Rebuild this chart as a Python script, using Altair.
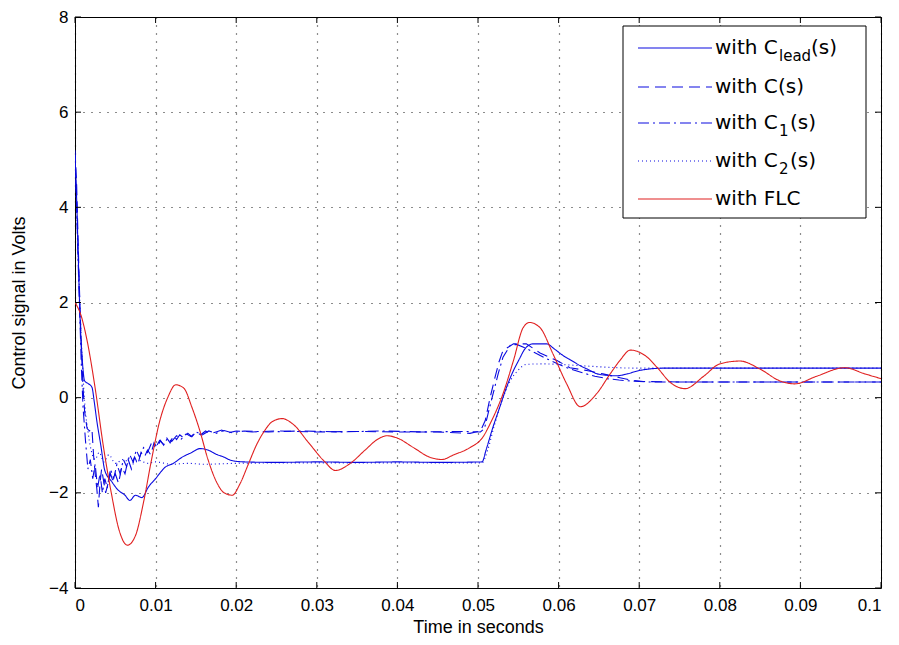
import altair as alt
import pandas as pd

# ---------------- data ----------------
t_lead = [0, 0.0002, 0.0004, 0.0006, 0.0009, 0.0012, 0.0016, 0.0021, 0.0024, 0.0027, 0.0032, 0.0037,
          0.0045, 0.0054, 0.0062, 0.0068, 0.0075, 0.0083, 0.0091, 0.0100, 0.0112, 0.0122, 0.0133,
          0.0145, 0.0155, 0.0165, 0.0174, 0.0185, 0.0194, 0.021, 0.025, 0.03, 0.035, 0.04, 0.045,
          0.0505, 0.051, 0.0518, 0.0527, 0.0535, 0.0544, 0.0551, 0.0558, 0.0568, 0.0585, 0.0595,
          0.0606, 0.0617, 0.0627, 0.0638, 0.0648, 0.0660, 0.0672, 0.0685, 0.0700, 0.073, 0.08, 0.09, 0.1]
v_lead = [5.1, 4.2, 3.0, 1.8, 0.8, 0.35, 0.3, 0.22, -0.1, -0.48, -1.0, -1.53,
          -1.75, -1.95, -2.05, -2.16, -2.05, -2.1, -1.88, -1.7, -1.46, -1.38, -1.25,
          -1.15, -1.07, -1.1, -1.18, -1.25, -1.32, -1.35, -1.36, -1.35, -1.36, -1.35, -1.36,
          -1.35, -1.1, -0.65, -0.2, 0.2, 0.57, 0.8, 1.02, 1.13, 1.13, 1.02,
          0.88, 0.77, 0.67, 0.58, 0.5, 0.47, 0.46, 0.5, 0.57, 0.62, 0.62, 0.62, 0.62]

t_c = [0, 0.0002, 0.0004, 0.0006, 0.0008, 0.0010, 0.0012, 0.0015, 0.0018, 0.0021, 0.0023, 0.0025,
       0.0027, 0.0029, 0.0031, 0.0033, 0.0035, 0.0038, 0.0041, 0.0044, 0.0047, 0.005, 0.0054,
       0.0058, 0.0062, 0.0066, 0.007, 0.0074, 0.0078, 0.0082, 0.0086, 0.009, 0.0094, 0.0098,
       0.0102, 0.0106, 0.011, 0.0114, 0.0118, 0.0122, 0.0126, 0.013, 0.0135, 0.014, 0.0145,
       0.015, 0.0156, 0.0162, 0.0168, 0.0175, 0.0182, 0.019, 0.02, 0.022, 0.025, 0.03, 0.035,
       0.04, 0.045, 0.049, 0.0503, 0.0509, 0.0515, 0.0521, 0.0526, 0.0531, 0.0544, 0.056,
       0.0577, 0.0598, 0.0614, 0.0635, 0.0655, 0.0676, 0.069, 0.0705, 0.075, 0.08, 0.09, 0.1]
v_c = [5.2, 4.5, 3.2, 2.0, 1.0, 0.2, -0.3, -0.65, -0.7, -0.65, -1.2, -1.6,
       -1.9, -2.3, -1.8, -1.5, -1.7, -2.0, -1.8, -1.6, -1.75, -1.6, -1.8,
       -1.45, -1.6, -1.3, -1.5, -1.25, -1.4, -1.15, -1.25, -1.1, -1.2, -0.95,
       -1.05, -0.9, -1.0, -0.85, -0.95, -0.8, -0.88, -0.78, -0.85, -0.75, -0.82,
       -0.72, -0.78, -0.7, -0.76, -0.72, -0.68, -0.74, -0.7, -0.72, -0.7, -0.72, -0.71,
       -0.72, -0.72, -0.75, -0.7, -0.48, 0.0, 0.42, 0.75, 0.99, 1.13, 1.13,
       0.94, 0.78, 0.63, 0.57, 0.5, 0.42, 0.37, 0.34, 0.33, 0.33, 0.33, 0.33]

t_c1 = [0, 0.0002, 0.0004, 0.0006, 0.0008, 0.001, 0.0013, 0.0016, 0.0019, 0.0022, 0.0025, 0.0028,
        0.0031, 0.0034, 0.0037, 0.004, 0.0044, 0.0048, 0.0052, 0.0056, 0.006, 0.0064, 0.0068,
        0.0072, 0.0076, 0.008, 0.0085, 0.009, 0.0095, 0.01, 0.0105, 0.011, 0.0115, 0.012,
        0.0126, 0.0132, 0.0138, 0.0144, 0.015, 0.0158, 0.0166, 0.0175, 0.0185, 0.0195, 0.021,
        0.024, 0.028, 0.033, 0.038, 0.043, 0.048, 0.0503, 0.0508, 0.0513, 0.0519, 0.0525,
        0.0531, 0.054, 0.0548, 0.0558, 0.057, 0.0585, 0.06, 0.0615, 0.063, 0.0645, 0.066,
        0.0675, 0.069, 0.071, 0.075, 0.08, 0.09, 0.1]
v_c1 = [5.0, 4.0, 2.8, 1.7, 0.6, -0.2, -0.9, -1.5, -1.3, -1.7, -1.4, -1.9,
        -1.6, -2.0, -1.7, -1.9, -1.5, -1.7, -1.4, -1.6, -1.3, -1.45, -1.2,
        -1.35, -1.1, -1.25, -1.05, -1.15, -0.95, -1.05, -0.9, -0.98, -0.85, -0.92,
        -0.8, -0.87, -0.76, -0.82, -0.72, -0.78, -0.7, -0.75, -0.69, -0.74, -0.7,
        -0.72, -0.7, -0.72, -0.7, -0.72, -0.71, -0.72, -0.65, -0.3, 0.1, 0.5,
        0.85, 1.1, 1.12, 1.05, 0.95, 0.82, 0.7, 0.6, 0.52, 0.45, 0.4,
        0.37, 0.35, 0.33, 0.33, 0.33, 0.33, 0.33]

t_c2 = [0, 0.0003, 0.0006, 0.0009, 0.0012, 0.0016, 0.002, 0.0025, 0.003, 0.0036, 0.0042, 0.005,
        0.006, 0.007, 0.008, 0.009, 0.01, 0.012, 0.014, 0.016, 0.02, 0.03, 0.04, 0.0505,
        0.0512, 0.052, 0.053, 0.054, 0.055, 0.056, 0.058, 0.06, 0.062, 0.064, 0.066, 0.07,
        0.08, 0.09, 0.1]
v_c2 = [5.0, 3.5, 2.0, 0.8, -0.1, -0.7, -1.1, -1.3, -1.15, -1.35, -1.2, -1.38,
        -1.3, -1.4, -1.32, -1.38, -1.35, -1.4, -1.38, -1.4, -1.38, -1.37, -1.37, -1.37,
        -1.1, -0.6, -0.05, 0.35, 0.58, 0.7, 0.71, 0.7, 0.68, 0.66, 0.64, 0.62,
        0.62, 0.62, 0.62]

t_flc = [0, 0.0008, 0.0015, 0.0025, 0.0035, 0.0045, 0.0055, 0.0065, 0.0075, 0.0085, 0.0095,
         0.0105, 0.0115, 0.0125, 0.0135, 0.0145, 0.0155, 0.0165, 0.0175, 0.0185, 0.0195,
         0.0205, 0.0215, 0.0225, 0.0235, 0.0245, 0.0257, 0.027, 0.029, 0.031, 0.0323, 0.034,
         0.036, 0.0375, 0.0387, 0.040, 0.042, 0.044, 0.0455, 0.047, 0.049, 0.0506, 0.0515,
         0.0531, 0.0544, 0.0556, 0.0564, 0.0577, 0.0593, 0.061, 0.0627, 0.0647, 0.0664,
         0.0676, 0.0689, 0.071, 0.0722, 0.074, 0.0757, 0.078, 0.08, 0.0825, 0.085, 0.0875,
         0.0893, 0.092, 0.0955, 0.098, 0.1]
v_flc = [2.0, 1.7, 1.2, 0.2, -1.0, -2.0, -2.8, -3.1, -2.9, -2.2, -1.3,
         -0.5, 0.0, 0.27, 0.2, -0.2, -0.7, -1.3, -1.75, -2.0, -2.05,
         -1.8, -1.4, -1.0, -0.7, -0.5, -0.44, -0.55, -0.95, -1.35, -1.53, -1.4,
         -1.1, -0.88, -0.8, -0.85, -1.05, -1.25, -1.3, -1.2, -1.05, -0.83, -0.55,
         0.08, 0.78, 1.47, 1.58, 1.47, 0.92, 0.29, -0.19, 0.08, 0.5,
         0.78, 1.0, 0.85, 0.64, 0.3, 0.19, 0.45, 0.71, 0.77, 0.6, 0.35,
         0.29, 0.45, 0.63, 0.5, 0.4]

x_ticks = [0, 0.01, 0.02, 0.03, 0.04, 0.05, 0.06, 0.07, 0.08, 0.09, 0.1]
y_ticks = [-4, -2, 0, 2, 4, 6, 8]

legend_main = ["with C", "with C", "with C", "with C", "with FLC"]
legend_sub = ["lead", "", "1", "2", ""]
legend_tail = ["(s)", "(s)", "(s)", "(s)", ""]

BLUE = "#0a0ae0"
RED = "#e02020"

series = [
    (t_lead, v_lead, BLUE, [1, 0], "monotone"),
    (t_c, v_c, BLUE, [11, 6], "linear"),
    (t_c1, v_c1, BLUE, [11, 4, 2, 4], "linear"),
    (t_c2, v_c2, BLUE, [1, 3], "monotone"),
    (t_flc, v_flc, RED, [1, 0], "monotone"),
]

W, H = 806, 571
FONT = "Liberation Sans"

xs = alt.Scale(domain=[0, 0.1], nice=False, zero=False)
ys = alt.Scale(domain=[-4, 8], nice=False, zero=False)

xaxis = alt.Axis(values=x_ticks, format=".2~f", title="Time in seconds", grid=True,
                 ticks=False, domain=False, labelPadding=9, titlePadding=5)
yaxis = alt.Axis(values=y_ticks, format="d", title="Control signal in Volts", grid=True,
                 ticks=False, domain=False, labelPadding=7, titlePadding=20)

layers = []
for t, v, col, dash, interp in series:
    df = pd.DataFrame({"t": t, "v": v})
    layers.append(
        alt.Chart(df).mark_line(color=col, strokeDash=dash, strokeWidth=1.1, clip=True,
                                interpolate=interp)
        .encode(x=alt.X("t:Q", scale=xs, axis=xaxis), y=alt.Y("v:Q", scale=ys, axis=yaxis))
    )

# inward tick marks on all four sides
dx = 0.1 * 6 / W
dy = 12 * 6 / H
xt = pd.DataFrame({"t": x_ticks})
yt = pd.DataFrame({"v": y_ticks})
tick_layers = [
    alt.Chart(xt).mark_rule(color="black").encode(
        x=alt.X("t:Q", scale=xs, axis=xaxis), y=alt.datum(-4, scale=ys), y2=alt.datum(-4 + dy)),
    alt.Chart(xt).mark_rule(color="black").encode(
        x=alt.X("t:Q", scale=xs, axis=xaxis), y=alt.datum(8, scale=ys), y2=alt.datum(8 - dy)),
    alt.Chart(yt).mark_rule(color="black").encode(
        y=alt.Y("v:Q", scale=ys, axis=yaxis), x=alt.datum(0, scale=xs), x2=alt.datum(dx)),
    alt.Chart(yt).mark_rule(color="black").encode(
        y=alt.Y("v:Q", scale=ys, axis=yaxis), x=alt.datum(0.1, scale=xs), x2=alt.datum(0.1 - dx)),
]

# legend (drawn manually to allow subscripts)
one = pd.DataFrame({"a": [0]})
LX0, LX1, LY0, LY1 = 548, 791, 9, 201
entry_y = [31, 70, 106, 144, 182]
leg_layers = [
    alt.Chart(one).mark_rect(fill="white", stroke="black", strokeWidth=1).encode(
        x=alt.value(LX0), x2=alt.value(LX1), y=alt.value(LY0), y2=alt.value(LY1))
]
LFONT = "DejaVu Sans"
for i, (t, v, col, dash, interp) in enumerate(series):
    yy = entry_y[i]
    leg_layers.append(
        alt.Chart(one).mark_rule(color=col, strokeDash=dash, strokeWidth=1.1).encode(
            x=alt.value(563), x2=alt.value(637), y=alt.value(yy)))
    leg_layers.append(
        alt.Chart(one).mark_text(align="left", baseline="middle", font=LFONT, fontSize=20,
                                 color="black").encode(
            x=alt.value(640), y=alt.value(yy), text=alt.value(legend_main[i])))
    if legend_sub[i]:
        sub_w = 31 if legend_sub[i] == "lead" else 10
        leg_layers.append(
            alt.Chart(one).mark_text(align="left", baseline="middle", font=LFONT, fontSize=15,
                                     color="black").encode(
                x=alt.value(704), y=alt.value(yy + 8), text=alt.value(legend_sub[i])))
        leg_layers.append(
            alt.Chart(one).mark_text(align="left", baseline="middle", font=LFONT, fontSize=20,
                                     color="black").encode(
                x=alt.value(705 + sub_w), y=alt.value(yy), text=alt.value(legend_tail[i])))
    elif legend_tail[i]:
        leg_layers.append(
            alt.Chart(one).mark_text(align="left", baseline="middle", font=LFONT, fontSize=20,
                                     color="black").encode(
                x=alt.value(703), y=alt.value(yy), text=alt.value(legend_tail[i])))

chart = alt.layer(*layers, *tick_layers, *leg_layers).properties(
    width=W, height=H,
    autosize=alt.AutoSizeParams(type="none"),
    padding={"left": 67, "top": 9, "right": 10, "bottom": 49},
    background="white",
).configure_view(
    stroke="black", strokeWidth=1
).configure_axis(
    gridColor="black", gridDash=[1, 7], gridWidth=1.2, gridOpacity=0.9,
    labelFont=FONT, labelFontSize=17, labelColor="black",
    titleFont=FONT, titleFontSize=18, titleFontWeight="normal", titleColor="black",
)

chart.save("out.html", embed_options={"renderer": "svg", "actions": False})
